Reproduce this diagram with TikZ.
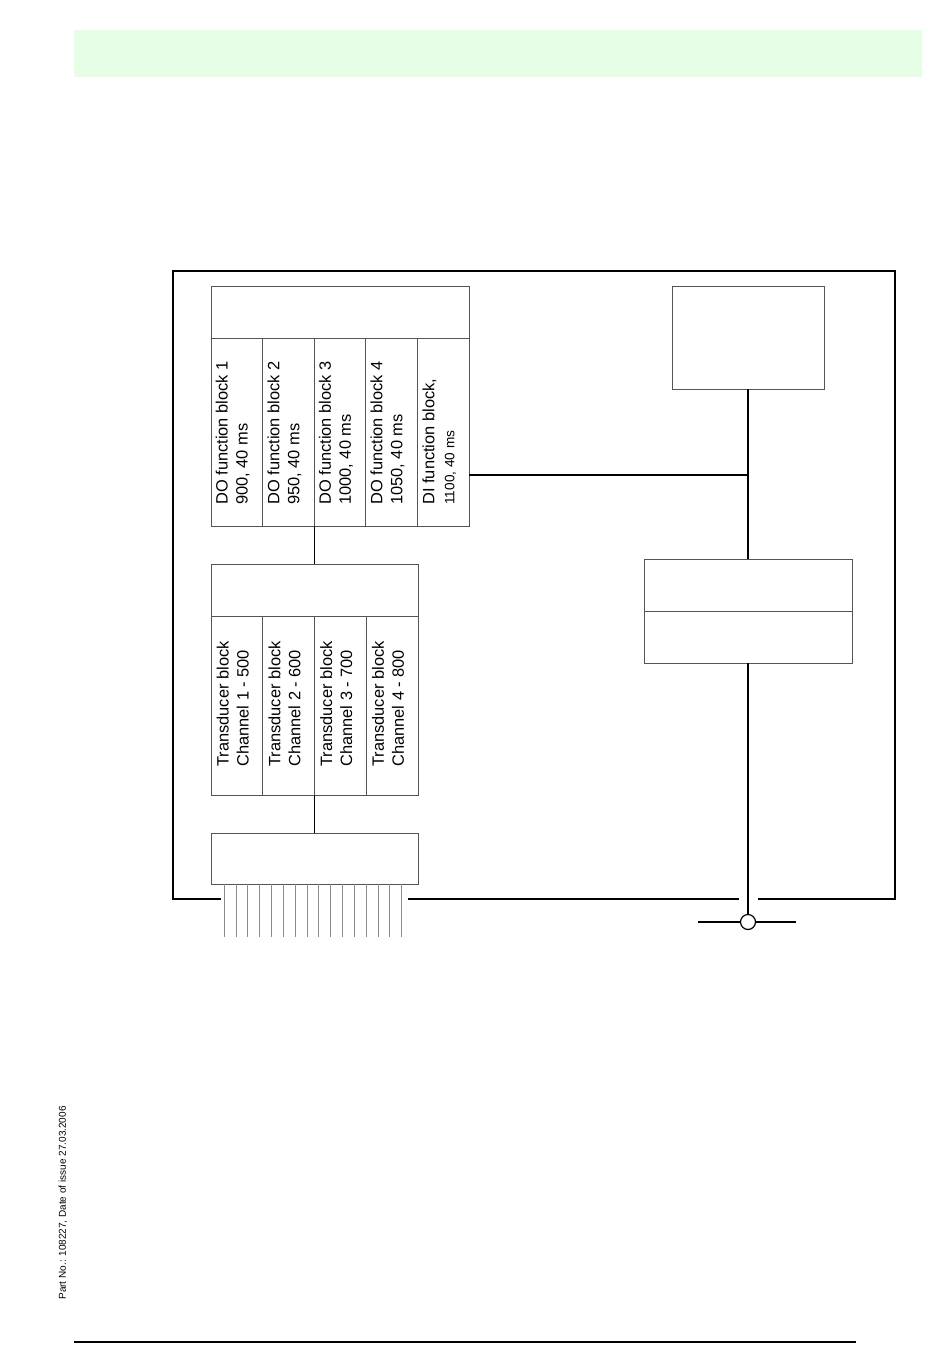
\documentclass[tikz,border=0pt]{standalone}
\usepackage{fontspec}
\setmainfont{Liberation Sans}
\usetikzlibrary{positioning,calc}
\definecolor{Band}{HTML}{E6FDE6}
\definecolor{Edge}{HTML}{555555}
\definecolor{Wire}{HTML}{8C8C8C}
\tikzset{
  outerframe/.style={line width=0.9pt,draw=black},
  box/.style={draw=Edge,line width=0.5pt,fill=white,inner sep=0pt,outer sep=0pt,anchor=north west},
  conn/.style={line width=0.7pt,draw=black},
  wire/.style={line width=0.5pt,draw=Wire},
  rot/.style={rotate=90,align=left,inner sep=0pt,anchor=west,font=\fontsize{8.2}{10}\selectfont},
  tapnode/.style={circle,draw=black,line width=0.6pt,fill=white,minimum size=7.5pt,inner sep=0pt}
}
\begin{document}
\begin{tikzpicture}[x=0.5pt,y=-0.5pt]
  \useasboundingbox (0,0) rectangle (950,1360);
  \fill[Band] (74,30) rectangle (922,77);
  \draw[outerframe] (221,899) -| (173,271) -| (895,899) -- (758,899);
  \draw[outerframe] (739,899) -- (408,899);

  % function blocks
  \node[box,minimum width=129pt,minimum height=26pt] (dohead) at (211,286) {};
  \node[box,minimum width=25.8pt,minimum height=94pt,below=0pt of dohead.south west,anchor=north west] (dc1) {};
  \node[box,minimum width=25.8pt,minimum height=94pt,right=0pt of dc1] (dc2) {};
  \node[box,minimum width=25.8pt,minimum height=94pt,right=0pt of dc2] (dc3) {};
  \node[box,minimum width=25.8pt,minimum height=94pt,right=0pt of dc3] (dc4) {};
  \node[box,minimum width=25.8pt,minimum height=94pt,right=0pt of dc4] (dc5) {};
  \node[rot] (dt1) at ($(dc1.south)+(-4,-21)$) {DO function block 1\\900, 40 ms};
  \node[rot] (dt2) at ($(dc2.south)+(-4,-21)$) {DO function block 2\\950, 40 ms};
  \node[rot] (dt3) at ($(dc3.south)+(-4,-21)$) {DO function block 3\\1000, 40 ms};
  \node[rot] (dt4) at ($(dc4.south)+(-4,-21)$) {DO function block 4\\1050, 40 ms};
  \node[rot] (dt5) at ($(dc5.south)+(-4,-21)$) {DI function block,\\{\fontsize{6.8}{8}\selectfont 1100, 40 ms}};

  % transducer blocks
  \node[box,minimum width=103.5pt,minimum height=26pt] (trhead) at (211,564) {};
  \node[box,minimum width=25.875pt,minimum height=89.5pt,below=0pt of trhead.south west,anchor=north west] (tc1) {};
  \node[box,minimum width=25.875pt,minimum height=89.5pt,right=0pt of tc1] (tc2) {};
  \node[box,minimum width=25.875pt,minimum height=89.5pt,right=0pt of tc2] (tc3) {};
  \node[box,minimum width=25.875pt,minimum height=89.5pt,right=0pt of tc3] (tc4) {};
  \node[rot] (tt1) at ($(tc1.south)+(-4,-28)$) {Transducer block\\Channel 1 - 500};
  \node[rot] (tt2) at ($(tc2.south)+(-4,-28)$) {Transducer block\\Channel 2 - 600};
  \node[rot] (tt3) at ($(tc3.south)+(-4,-28)$) {Transducer block\\Channel 3 - 700};
  \node[rot] (tt4) at ($(tc4.south)+(-4,-28)$) {Transducer block\\Channel 4 - 800};

  \node[box,minimum width=103.5pt,minimum height=25.5pt] (io) at (211,833) {};
  \foreach \i in {0,...,15}
    \draw[wire] ($(io.south west)+(13.3+11.83*\i,0)$) -- ++(0,53);

  % right side
  \node[box,minimum width=76pt,minimum height=51.5pt] (ctrl) at (672,286) {};
  \node[box,minimum width=104pt,minimum height=26pt] (busa) at (644,559) {};
  \node[box,minimum width=104pt,minimum height=26pt,below=0pt of busa.south west,anchor=north west] (busb) {};
  \node[tapnode] (tap) at (748,922) {};
  \coordinate (dij) at (748,475);
  \coordinate (busl) at (698,922);
  \coordinate (busr) at (796,922);

  \draw[conn] (trhead.north) -- (trhead.north |- dc1.south);
  \draw[conn] (io.north) -- (io.north |- tc1.south);
  \draw[conn] (ctrl.south) -- (busa.north);
  \draw[conn] (dc5.east |- dij) -- (dij);
  \draw[conn] (busb.south) -- (tap.north);
  \draw[conn] (busl) -- (tap.west);
  \draw[conn] (tap.east) -- (busr);

  \node[rotate=90,inner sep=0pt,font=\fontsize{5}{6}\selectfont] (partno) at (63,1203) {Part No.: 108227, Date of issue 27.03.2006};
  \draw[line width=0.6pt] (74,1342) -- (856,1342);
\end{tikzpicture}
\end{document}
